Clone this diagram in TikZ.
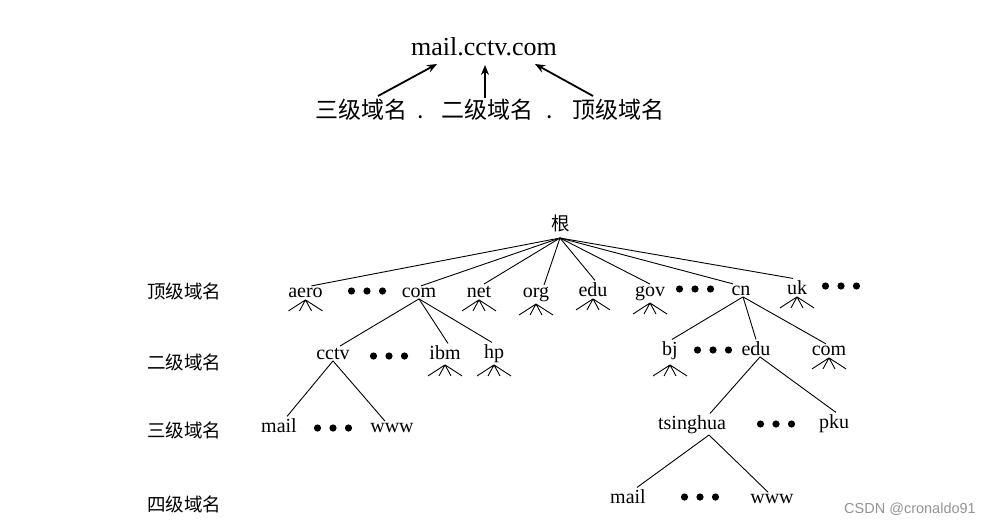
\documentclass[tikz,border=0pt]{standalone}
\usepackage{fontspec}
\setmainfont{Liberation Serif}
\newfontfamily\cjk{Noto Sans CJK SC}
\newfontfamily\wmfont{Liberation Sans}
\usetikzlibrary{arrows.meta,calc}
\begin{document}
\begin{tikzpicture}[x=1pt,y=-1pt,
  lab/.style={font=\fontsize{20}{20}\selectfont, inner sep=1.5pt, anchor=base},
  rowlab/.style={font=\cjk\fontsize{18.5}{18.5}\selectfont, inner sep=0pt},
  toplab/.style={font=\cjk\fontsize{23}{23}\selectfont, inner sep=0pt, anchor=base},
  edge/.style={line width=0.9pt},
  arr/.style={line width=1.8pt,-{Stealth[length=10pt,width=8pt]}},
  fan/.pic={\draw[edge] (0,0) -- (-17,11) (0,0) -- (-6,11) (0,0) -- (6,11) (0,0) -- (17,11);},
  dots/.pic={\foreach \i in {-15.5,0,15.5} \fill (\i,0) circle (3.6pt);}
]
\fill[white] (0,0) rectangle (995,525);
\useasboundingbox (0,0) rectangle (995,525);

% ---- top: domain name explanation ----
\node[font=\fontsize{26}{26}\selectfont, inner sep=0pt, anchor=base] (dn) at (484,55) {mail.cctv.com};
\node[toplab] (t3) at (361,118) {三级域名};
\node[toplab] (p1) at (421,118) {.};
\node[toplab] (t2) at (487,118) {二级域名};
\node[toplab] (p2) at (550,118) {.};
\node[toplab] (t1) at (618,118) {顶级域名};
\coordinate (a3s) at (378,96); \coordinate (a3e) at (437,64);
\coordinate (a2s) at (485,98); \coordinate (a2e) at (485,65);
\coordinate (a1s) at (593,96); \coordinate (a1e) at (535,64);
\draw[arr] (a3s) -- (a3e);
\draw[arr] (a2s) -- (a2e);
\draw[arr] (a1s) -- (a1e);

% ---- row labels ----
\node[rowlab] (r1) at (184,291) {顶级域名};
\node[rowlab] (r2) at (184,362) {二级域名};
\node[rowlab] (r3) at (184,430) {三级域名};
\node[rowlab] (r4) at (184,504) {四级域名};

% ---- root ----
\node[font=\cjk\fontsize{18.5}{18.5}\selectfont, inner sep=0pt] (root) at (561,223) {根};
\coordinate (rootpt) at (560,238);

% ---- top level ----
\node[lab] (aero) at (305.5,297) {aero};
\node[lab] (com) at (419,297) {com};
\node[lab] (net) at (479,297) {net};
\node[lab] (org) at (536,297) {org};
\node[lab] (edu) at (593,296) {edu};
\node[lab] (gov) at (650,296) {gov};
\node[lab] (cn) at (741,295) {cn};
\node[lab] (uk) at (797,294) {uk};
\pic at (367,291) {dots};
\pic at (695,289) {dots};
\pic at (841,286) {dots};

\foreach \n/\dx in {aero/6,com/2,net/5,org/8,edu/2,gov/0,cn/-8,uk/-4}
  \draw[edge] (rootpt) -- ([xshift=\dx pt]\n.north);

\foreach \n in {aero,net,org,edu,gov,uk}
  \pic at ([yshift=-1pt]\n.south) {fan};

% ---- second level ----
\node[lab] (cctv) at (333,359) {cctv};
\node[lab] (ibm) at (445,359) {ibm};
\node[lab] (hp) at (494,358) {hp};
\node[lab] (bj) at (670,355) {bj};
\node[lab] (edu2) at (756,355) {edu};
\node[lab] (com2) at (829,355) {com};
\pic at (389,356) {dots};
\pic at (713,350) {dots};

\draw[edge] (com.south) -- ([xshift=7pt]cctv.north);
\draw[edge] (com.south) -- ([xshift=3pt]ibm.north);
\draw[edge] (com.south) -- ([xshift=-2pt]hp.north);
\draw[edge] ([xshift=2pt]cn.south) -- ([xshift=2pt]bj.north);
\draw[edge] ([xshift=2pt]cn.south) -- (edu2.north);
\draw[edge] ([xshift=2pt]cn.south) -- ([xshift=-3pt]com2.north);

\pic at ([yshift=-4pt]ibm.south) {fan};
\pic at ([yshift=-1pt]hp.south) {fan};
\pic at ([yshift=-4pt]bj.south) {fan};
\pic at ([yshift=-1pt]com2.south) {fan};

% ---- third level ----
\node[lab] (mail1) at (279,432) {mail};
\node[lab] (www1) at (392,432) {www};
\node[lab] (ts) at (692,429) {tsinghua};
\node[lab] (pku) at (834,428) {pku};
\pic at (333,428) {dots};
\pic at (776,424) {dots};

\draw[edge] (cctv.south) -- ([xshift=8pt]mail1.north);
\draw[edge] (cctv.south) -- ([xshift=-7pt]www1.north);
\draw[edge] ([xshift=4pt]edu2.south) -- ([xshift=18pt]ts.north);
\draw[edge] ([xshift=4pt]edu2.south) -- ([xshift=2pt]pku.north);

% ---- fourth level ----
\node[lab] (mail2) at (628,503) {mail};
\node[lab] (www2) at (772,503) {www};
\pic at (700,497) {dots};

\draw[edge] ([xshift=17pt]ts.south) -- ([xshift=9pt]mail2.north);
\draw[edge] ([xshift=17pt]ts.south) -- ([xshift=-4pt]www2.north);

% ---- watermark ----
\node[font=\wmfont\fontsize{14.5}{14.5}\selectfont, text=black!42, inner sep=0pt] (wm) at (910,509) {CSDN @cronaldo91};
\end{tikzpicture}
\end{document}
